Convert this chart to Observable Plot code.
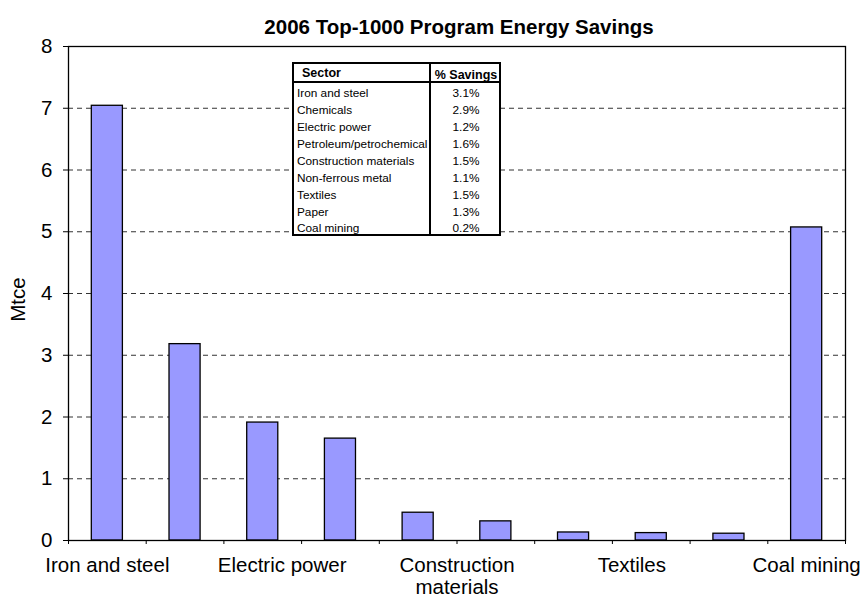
<!DOCTYPE html>
<html>
<head>
<meta charset="utf-8">
<script src="https://cdn.jsdelivr.net/npm/d3@7"></script>
<script src="https://cdn.jsdelivr.net/npm/@observablehq/plot@0.6"></script>
<style>
  html, body { margin: 0; padding: 0; background: white; }
  #wrap { position: relative; width: 861px; height: 597px; font-family: Arial, "Liberation Sans", sans-serif; }
  #tbl { position: absolute; left: 292px; top: 62px; border-collapse: collapse; background: white;
         border: 2px solid black; font-size: 11.8px; color: black; table-layout: fixed; width: 209px; }
  #tbl td, #tbl th { box-sizing: border-box; padding: 0 1px 0 3px; height: 17px; line-height: 12px; vertical-align: bottom; white-space: nowrap; overflow: visible; }
  #tbl th { font-weight: bold; font-size: 12.5px; border-bottom: 2px solid black; height: 19px; padding-bottom: 2px; }
  #tbl th.c1 { text-align: left; padding-left: 8px; width: 137px; }
  #tbl .c1 { border-right: 2px solid black; text-align: left; }
  #tbl .c2 { text-align: center; padding: 0 0 0 2px; }
</style>
</head>
<body>
<div id="wrap"></div>
<script>
// ---- data ----
const title = "2006 Top-1000 Program Energy Savings";
const yLabel = "Mtce";
const categories = ["Iron and steel", "Chemicals", "Electric power", "Petroleum/petrochemical",
  "Construction materials", "Non-ferrous metal", "Textiles", "Paper", "Other", "Coal mining"];
const values = [7.04, 3.18, 1.91, 1.65, 0.45, 0.31, 0.13, 0.12, 0.11, 5.07];
const xTickLabels = ["Iron and steel", "Electric power", "Construction\nmaterials", "Textiles", "Coal mining"];
const yTicks = [0, 1, 2, 3, 4, 5, 6, 7, 8];
const gridValues = [1, 2, 3, 4, 5, 6, 7];
const tableHeader = ["Sector", "% Savings"];
const tableSectors = ["Iron and steel", "Chemicals", "Electric power", "Petroleum/petrochemical",
  "Construction materials", "Non-ferrous metal", "Textiles", "Paper", "Coal mining"];
const tableSavings = ["3.1%", "2.9%", "1.2%", "1.6%", "1.5%", "1.1%", "1.5%", "1.3%", "0.2%"];

// ---- build ----
const bars = categories.map((c, i) => ({category: c, value: values[i], idx: i}));
const n = categories.length;
const labelData = xTickLabels.map((t, k) => ({text: t, pos: k * (n - 1) / (xTickLabels.length - 1)}));
const slotTicks = d3.range(-0.5, n, 1);

const chart = Plot.plot({
  width: 861,
  height: 597,
  marginLeft: 68,
  marginRight: 16,
  marginTop: 46,
  marginBottom: 57,
  style: {fontFamily: "Arial, 'Liberation Sans', sans-serif", fontSize: "20.5px", color: "black", background: "white", overflow: "visible"},
  x: {type: "linear", domain: [-0.5, n - 0.5]},
  y: {domain: [0, 8]},
  marks: [
    Plot.ruleY(gridValues, {stroke: "#333", strokeDasharray: "5,4", strokeWidth: 1}),
    Plot.rectY(bars, {x1: d => d.idx - 0.2, x2: d => d.idx + 0.2, y: "value", fill: "#9999ff", stroke: "black", strokeWidth: 1.3}),
    Plot.frame({stroke: "black", strokeWidth: 1.3}),
    Plot.axisY({ticks: yTicks, tickSize: 5, tickPadding: 11, label: null, tickFormat: d => String(d)}),
    Plot.axisX({ticks: slotTicks, tickSize: 4, tickFormat: () => "", label: null}),
    Plot.text(labelData, {x: "pos", frameAnchor: "bottom", text: "text", lineAnchor: "top", dy: 16, lineHeight: 1.08}),
    Plot.text([title], {frameAnchor: "top", dx: 2, dy: -27, fontWeight: "bold", fontSize: 20.5}),
    Plot.text([yLabel], {frameAnchor: "left", textAnchor: "middle", rotate: -90, dx: -50, dy: 6})
  ]
});

const wrap = document.getElementById("wrap");
wrap.appendChild(chart);

// inset table
const tbl = document.createElement("table");
tbl.id = "tbl";
const hr = document.createElement("tr");
tableHeader.forEach((h, j) => {
  const th = document.createElement("th");
  th.className = j === 0 ? "c1" : "c2";
  th.textContent = h;
  hr.appendChild(th);
});
tbl.appendChild(hr);
tableSectors.forEach((s, i) => {
  const tr = document.createElement("tr");
  const a = document.createElement("td"); a.className = "c1"; a.textContent = s;
  const b = document.createElement("td"); b.className = "c2"; b.textContent = tableSavings[i];
  tr.appendChild(a); tr.appendChild(b);
  tbl.appendChild(tr);
});
wrap.appendChild(tbl);
</script>
</body>
</html>
